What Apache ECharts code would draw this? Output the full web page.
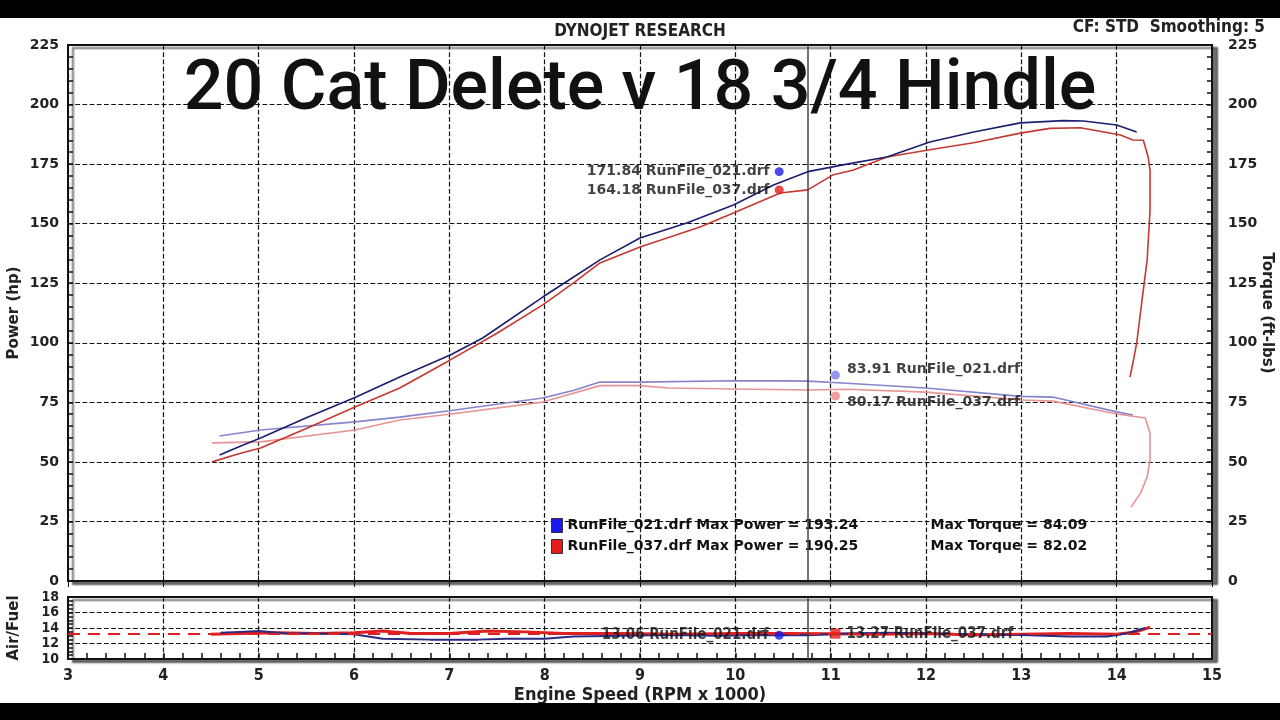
<!DOCTYPE html>
<html><head><meta charset="utf-8">
<script src="https://cdn.jsdelivr.net/npm/echarts@6/dist/echarts.min.js"></script>
<style>html,body{margin:0;padding:0;background:#fff}#c{width:1280px;height:720px}</style>
</head><body><div id="c"></div>
<script>
// ---------- data ----------
const runNames = ['RunFile_021.drf', 'RunFile_037.drf'];
const chartTitle = '20 Cat Delete v 18 3/4 Hindle';
const rpmTicks = [3, 15, 1];           // min, max, step (x 1000 rpm)
const powerTicks = [0, 225, 25];
const afrTicks = [10, 18, 2];

const power021 = [[4.59,52.9],[4.8,56.5],[5.02,60],[5.5,68.5],[6.01,77],[6.48,85.6],[7.01,94.9],[7.35,102],[7.98,119.2],[8.3,127.5],[8.58,134.8],[9.0,144],[9.49,150.3],[9.98,157.8],[10.4,166.2],[10.76,171.84],[11.17,175],[11.59,178],[12.04,184.3],[12.5,188.5],[12.99,192.3],[13.44,193.24],[13.65,193.1],[14.0,191.4],[14.21,188.5]];
const power037 = [[4.51,50],[4.8,53.5],[5.02,55.8],[5.5,64],[6.01,73],[6.48,81],[7.01,92.8],[7.5,104],[7.98,115.9],[8.3,125],[8.58,133.5],[9.0,140.2],[9.63,148.6],[9.98,154.5],[10.47,162.9],[10.76,164.18],[11.02,170.4],[11.24,172.5],[11.59,178],[12.04,181],[12.5,184],[12.99,188],[13.3,190],[13.62,190.25],[14.04,187.2],[14.17,185.1],[14.28,185],[14.33,178],[14.35,172.5],[14.35,155.7],[14.32,134.8],[14.27,119.2],[14.21,99.9],[14.17,91.5],[14.14,85.6]];
const torque021 = [[4.59,60.9],[5.02,63.4],[6.01,66.8],[6.48,68.8],[7.0,71.5],[7.98,76.8],[8.3,80],[8.58,83.5],[9.0,83.5],[9.98,84.09],[10.5,84.0],[10.76,83.91],[11.17,83],[12.0,81],[13.0,77.5],[13.33,77.2],[14.0,71],[14.17,69.7]];
const torque037 = [[4.51,58],[5.02,58.4],[6.01,63.4],[6.48,67.6],[7.0,70],[7.98,75.1],[8.58,82.02],[9.0,82],[9.3,81],[10.0,80.6],[10.76,80.17],[11.17,80.5],[12.0,79.3],[13.0,76],[13.33,75.5],[14.0,70.1],[14.3,68.4],[14.35,62],[14.35,57.9],[14.35,50.8],[14.32,43.7],[14.25,36.9],[14.15,31]];
const afr021 = [[4.6,13.4],[4.8,13.5],[5.0,13.6],[5.3,13.3],[5.6,13.3],[6.0,13.2],[6.3,12.6],[6.8,12.5],[7.3,12.5],[7.6,12.6],[8.0,12.6],[8.3,12.9],[8.8,13.0],[9.3,13.1],[9.8,13.0],[10.3,13.1],[10.76,13.06],[11.2,13.3],[11.6,13.4],[12.0,13.3],[12.5,13.2],[13.0,13.1],[13.5,12.9],[13.9,12.9],[14.1,13.3],[14.3,14.0]];
const afr037 = [[4.5,13.2],[4.8,13.3],[5.2,13.4],[5.6,13.3],[6.0,13.4],[6.3,13.6],[6.6,13.3],[7.0,13.3],[7.4,13.6],[7.8,13.5],[8.2,13.3],[8.8,13.3],[9.4,13.2],[10.0,13.3],[10.5,13.3],[11.0,13.27],[11.5,13.2],[12.0,13.3],[12.5,13.1],[13.0,13.2],[13.5,13.3],[14.0,13.2],[14.2,13.5],[14.35,14.1]];
const afrTarget = 13.2;

const cursorRpm = 10.76;
const cursorPower = [171.84, 164.18];
const cursorTorque = [83.91, 80.17];
const cursorAfr = [13.06, 13.27];
const maxPower = [193.24, 190.25];
const maxTorque = [84.09, 82.02];
const powerTagRpm = 10.46;
const torqueTagRpm = 11.05;

// ---------- styles ----------
const cond = "'DejaVu Sans Condensed', 'DejaVu Sans', sans-serif";
const wide = "'DejaVu Sans', sans-serif";
const cPow = ['#1b1f6e', '#c43a32'];
const cTq = ['#8585cc', '#e69494'];
const cDot = ['#1a1aee', '#e31b1b'];
const cDotT = ['#7b7bef', '#f08585'];
const grid = {type: 'dashed', color: '#111', width: 1.2};

const chart = echarts.init(document.getElementById('c'), null, {renderer: 'canvas'});

const tagLabel = (v, i) => v.toFixed(2) + ' ' + runNames[i];
const gridBase = {left: 68, right: 68, show: true, backgroundColor: '#fff', borderColor: '#111', borderWidth: 2,
  shadowColor: 'rgba(0,0,0,0.55)', shadowBlur: 2, shadowOffsetX: 5, shadowOffsetY: 3,
  containLabel: false, outerBoundsMode: 'none'};

const option = {
  backgroundColor: '#fff',
  animation: false,
  title: [
    {text: chartTitle, left: 'center', top: 51, textStyle: {fontFamily: 'Roboto', fontWeight: 500, fontSize: 70, color: '#111'}},
    {text: 'DYNOJET RESEARCH', left: 'center', top: 23, padding: 0, textStyle: {fontFamily: cond, fontWeight: 'bold', fontSize: 17, color: '#222'}},
    {text: 'CF: STD  Smoothing: 5', right: 15, top: 19, padding: 0, textStyle: {fontFamily: cond, fontWeight: 'bold', fontSize: 17, color: '#222'}}
  ],
  legend: {
    orient: 'vertical', left: 551, top: 518, itemGap: 6, itemWidth: 11, itemHeight: 14, padding: 0,
    icon: 'rect', selectedMode: false,
    data: runNames.map((n, i) => ({name: n, itemStyle: {color: cDot[i], borderColor: '#333', borderWidth: 1}})),
    formatter: n => {
      const i = runNames.indexOf(n);
      return '{a|' + n + ' Max Power = ' + maxPower[i].toFixed(2) + '}{b|Max Torque = ' + maxTorque[i].toFixed(2) + '}';
    },
    textStyle: {fontFamily: wide, fontWeight: 'bold', fontSize: 14, color: '#111',
      rich: {a: {width: 363, fontFamily: wide, fontWeight: 'bold', fontSize: 14, color: '#111'},
             b: {fontFamily: wide, fontWeight: 'bold', fontSize: 14, color: '#111'}}}
  },
  grid: [
    Object.assign({top: 45, height: 536}, gridBase),
    Object.assign({top: 597, height: 62}, gridBase)
  ],
  xAxis: [
    {type: 'value', gridIndex: 0, min: rpmTicks[0], max: rpmTicks[1], interval: rpmTicks[2],
     axisLine: {show: true, lineStyle: {color: '#111', width: 2}},
     axisTick: {show: true, inside: true, length: 5, lineStyle: {color: '#111'}},
     axisLabel: {show: false}, splitLine: {show: true, lineStyle: grid}},
    {type: 'value', gridIndex: 1, min: rpmTicks[0], max: rpmTicks[1], interval: rpmTicks[2],
     name: 'Engine Speed (RPM x 1000)', nameLocation: 'middle', nameGap: 27, nameMoveOverlap: false,
     nameTextStyle: {fontFamily: cond, fontWeight: 'bold', fontSize: 18, color: '#222'},
     axisLine: {show: true, lineStyle: {color: '#111', width: 2}},
     axisTick: {show: true, inside: true, length: 6, lineStyle: {color: '#111', width: 1.5}},
     minorTick: {show: true, splitNumber: 5, length: 6, lineStyle: {color: '#111', width: 1.5}},
     axisLabel: {show: true, margin: 9, fontFamily: cond, fontWeight: 'bold', fontSize: 16, color: '#222'},
     splitLine: {show: true, lineStyle: grid}},
    {type: 'value', gridIndex: 0, position: 'top', min: rpmTicks[0], max: rpmTicks[1], interval: rpmTicks[2],
     axisLine: {show: false}, axisTick: {show: true, inside: true, length: 6, lineStyle: {color: '#111'}},
     axisLabel: {show: false}, splitLine: {show: false}}
  ],
  yAxis: [
    {type: 'value', gridIndex: 0, min: powerTicks[0], max: powerTicks[1], interval: powerTicks[2],
     name: 'Power (hp)', nameLocation: 'middle', nameGap: 46, nameMoveOverlap: false,
     nameTextStyle: {fontFamily: wide, fontWeight: 'bold', fontSize: 15, color: '#222'},
     axisLine: {show: true, lineStyle: {color: '#111', width: 2}},
     axisTick: {show: true, inside: true, length: 5, lineStyle: {color: '#111', width: 1.5}},
     minorTick: {show: true, splitNumber: 5, length: 5, lineStyle: {color: '#111', width: 1.5}},
     axisLabel: {margin: 9, fontFamily: wide, fontWeight: 'bold', fontSize: 14, color: '#222', showMinLabel: true, showMaxLabel: true},
     splitLine: {show: true, lineStyle: grid}},
    {type: 'value', gridIndex: 0, position: 'right', min: powerTicks[0], max: powerTicks[1], interval: powerTicks[2],
     name: 'Torque (ft-lbs)', nameLocation: 'middle', nameGap: 47, nameRotate: -90, nameMoveOverlap: false,
     nameTextStyle: {fontFamily: wide, fontWeight: 'bold', fontSize: 15, color: '#222'},
     axisLine: {show: true, lineStyle: {color: '#111', width: 2}},
     axisTick: {show: true, inside: true, length: 5, lineStyle: {color: '#111', width: 1.5}},
     minorTick: {show: true, splitNumber: 5, length: 5, lineStyle: {color: '#111', width: 1.5}},
     axisLabel: {margin: 16, fontFamily: wide, fontWeight: 'bold', fontSize: 14, color: '#222', showMinLabel: true, showMaxLabel: true},
     splitLine: {show: false}},
    {type: 'value', gridIndex: 1, min: afrTicks[0], max: afrTicks[1], interval: afrTicks[2],
     name: 'Air/Fuel', nameLocation: 'middle', nameGap: 46, nameMoveOverlap: false,
     nameTextStyle: {fontFamily: wide, fontWeight: 'bold', fontSize: 15, color: '#222'},
     axisLine: {show: true, lineStyle: {color: '#111', width: 2}},
     axisTick: {show: true, inside: true, length: 5, lineStyle: {color: '#111', width: 1.5}},
     minorTick: {show: true, splitNumber: 4, length: 5, lineStyle: {color: '#111', width: 1.5}},
     axisLabel: {margin: 9, fontFamily: cond, fontWeight: 'bold', fontSize: 14, color: '#222', showMinLabel: true, showMaxLabel: true, hideOverlap: false},
     splitLine: {show: true, lineStyle: {type: 'dashed', color: '#111', width: 1.2}}}
  ],
  series: [
    {name: runNames[0], type: 'line', xAxisIndex: 0, yAxisIndex: 0, data: power021, showSymbol: false,
     lineStyle: {color: cPow[0], width: 1.6}, itemStyle: {color: cDot[0]}, z: 5,
     markLine: {silent: true, symbol: ['none', 'none'], label: {show: false},
       lineStyle: {color: '#444', width: 1.5, type: 'solid'}, data: [{xAxis: cursorRpm}]}},
    {name: runNames[1], type: 'line', xAxisIndex: 0, yAxisIndex: 0, data: power037, showSymbol: false,
     lineStyle: {color: cPow[1], width: 1.6}, itemStyle: {color: cDot[1]}, z: 4},
    {name: runNames[0] + ' tq', type: 'line', xAxisIndex: 0, yAxisIndex: 1, data: torque021, showSymbol: false,
     lineStyle: {color: cTq[0], width: 1.6}, z: 3},
    {name: runNames[1] + ' tq', type: 'line', xAxisIndex: 0, yAxisIndex: 1, data: torque037, showSymbol: false,
     lineStyle: {color: cTq[1], width: 1.6}, z: 3},
    {name: 'power tags', type: 'scatter', xAxisIndex: 0, yAxisIndex: 0, symbolSize: 9, z: 10,
     data: cursorPower.map((v, i) => ({value: [powerTagRpm, v], itemStyle: {color: cDot[i]},
       label: {show: true, position: 'left', distance: 5, formatter: tagLabel(v, i),
         fontFamily: wide, fontWeight: 'bold', fontSize: 14, color: '#111'}}))},
    {name: 'torque tags', type: 'scatter', xAxisIndex: 0, yAxisIndex: 1, symbolSize: 9, z: 10,
     data: cursorTorque.map((v, i) => ({value: [torqueTagRpm, v], itemStyle: {color: cDotT[i]},
       symbolOffset: [0, i === 0 ? -6 : 6],
       label: {show: true, position: 'right', distance: 7, offset: [0, i === 0 ? -6 : 6], formatter: tagLabel(v, i),
         fontFamily: wide, fontWeight: 'bold', fontSize: 14, color: '#111'}}))},
    {name: runNames[1] + ' afr', type: 'line', xAxisIndex: 1, yAxisIndex: 2, data: afr037, showSymbol: false,
     lineStyle: {color: '#e02020', width: 3}, z: 3,
     markLine: {silent: true, symbol: ['none', 'none'], label: {show: false},
       data: [
         {yAxis: afrTarget, lineStyle: {color: '#e02020', width: 2, type: [12, 8]}},
         {xAxis: cursorRpm, lineStyle: {color: '#444', width: 1.5, type: 'solid'}}
       ]}},
    {name: runNames[0] + ' afr', type: 'line', xAxisIndex: 1, yAxisIndex: 2, data: afr021, showSymbol: false,
     lineStyle: {color: '#2a2a80', width: 2}, z: 4},
    {name: 'afr tags', type: 'scatter', xAxisIndex: 1, yAxisIndex: 2, z: 10,
     data: cursorAfr.map((v, i) => ({value: [i === 0 ? powerTagRpm : torqueTagRpm, v],
       symbol: i === 0 ? 'circle' : 'rect', symbolSize: i === 0 ? 9 : 10, itemStyle: {color: cDot[i]},
       label: {show: true, position: i === 0 ? 'left' : 'right', distance: 6, formatter: tagLabel(v, i),
         fontFamily: cond, fontWeight: 'bold', fontSize: 15, color: '#111'}}))}
  ],
  graphic: [
    {type: 'rect', left: 0, top: 0, shape: {width: 1280, height: 18}, style: {fill: '#000'}, z: 100},
    {type: 'rect', left: 0, top: 703, shape: {width: 1280, height: 17}, style: {fill: '#000'}, z: 100}
  ]
};
chart.setOption(option);
</script></body></html>
